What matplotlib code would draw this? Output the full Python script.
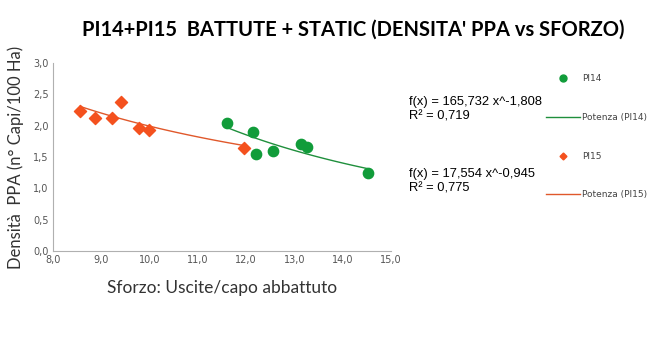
import numpy as np
import matplotlib.pyplot as plt
from matplotlib.lines import Line2D

# PI14 and PI15 points
pi14_x = [11.61, 12.15, 12.20, 12.55, 13.14, 13.26, 14.52]
pi14_y = [2.05, 1.90, 1.55, 1.60, 1.70, 1.66, 1.24]
pi15_x = [8.56, 8.87, 9.23, 9.40, 9.79, 9.98, 11.95]
pi15_y = [2.24, 2.13, 2.13, 2.37, 1.97, 1.93, 1.65]

# power trendlines a * x^b
pi14_fit = (165.732, -1.808, 0.719)
pi15_fit = (17.554, -0.945, 0.775)

green = '#119c3a'
orange = '#f4511e'
green_line = '#1f8f3c'
orange_line = '#e0582b'

fig = plt.figure(figsize=(6.58, 3.58), dpi=100)
ax = fig.add_axes([0.0805, 0.299, 0.5135, 0.525])

ax.scatter(pi14_x, pi14_y, s=55, marker='o', color=green, zorder=3)
ax.scatter(pi15_x, pi15_y, s=38, marker='D', color=orange, zorder=3)

xs = np.linspace(min(pi14_x), max(pi14_x), 100)
ax.plot(xs, pi14_fit[0] * xs ** pi14_fit[1], color=green_line, lw=1)
xs = np.linspace(min(pi15_x), max(pi15_x), 100)
ax.plot(xs, pi15_fit[0] * xs ** pi15_fit[1], color=orange_line, lw=1)

ax.set_xlim(8, 15)
ax.set_ylim(0, 3)
ax.set_xticks(np.arange(8, 15.1, 1))
ax.set_yticks(np.arange(0, 3.01, 0.5))
ax.set_xticklabels([f"{v:.1f}".replace('.', ',') for v in np.arange(8, 15.1, 1)])
ax.set_yticklabels([f"{v:.1f}".replace('.', ',') for v in np.arange(0, 3.01, 0.5)])
ax.tick_params(axis='both', length=0, labelsize=7, labelcolor='#555555', pad=3)
for s in ['top', 'right']:
    ax.spines[s].set_visible(False)
for s in ['left', 'bottom']:
    ax.spines[s].set_color('#b0b0b0')
    ax.spines[s].set_linewidth(0.8)

ax.set_xlabel("Sforzo: Uscite/capo abbattuto", fontsize=12.5, family='Lato',
              color='#333333', labelpad=11)
fig.text(0.024, 0.56, "Densità  PPA (n° Capi/100 Ha)", rotation=90,
         fontsize=12, family='Lato', color='#333333', ha='center', va='center')

fig.suptitle("PI14+PI15  BATTUTE + STATIC (DENSITA' PPA vs SFORZO)",
             x=0.537, y=0.945, fontsize=14.5, fontweight='bold', family='Lato')

def fmt(v, d):
    return f"{v:.{d}f}".replace('.', ',')

fig.text(0.621, 0.694, f"f(x) = {fmt(pi14_fit[0], 3)} x^{fmt(pi14_fit[1], 3)}\n"
         f"R² = {fmt(pi14_fit[2], 3)}", fontsize=9.3, family='Liberation Sans',
         va='center', linespacing=1.3)
fig.text(0.621, 0.494, f"f(x) = {fmt(pi15_fit[0], 3)} x^{fmt(pi15_fit[1], 3)}\n"
         f"R² = {fmt(pi15_fit[2], 3)}", fontsize=9.3, family='Liberation Sans',
         va='center', linespacing=1.3)

handles = [
    Line2D([], [], marker='o', color=green, ls='none', markersize=5),
    Line2D([], [], color=green_line, lw=1),
    Line2D([], [], marker='D', color=orange, ls='none', markersize=3.5),
    Line2D([], [], color=orange_line, lw=1),
]
labels = ['PI14', 'Potenza (PI14)', 'PI15', 'Potenza (PI15)']
fig.legend(handles, labels, loc='upper left', bbox_to_anchor=(0.83, 0.793),
           frameon=False, fontsize=6.5, handlelength=3.8, handletextpad=0.2,
           labelspacing=3.3, borderpad=0, borderaxespad=0, labelcolor='#444444')

plt.savefig('out.png', dpi=100)
